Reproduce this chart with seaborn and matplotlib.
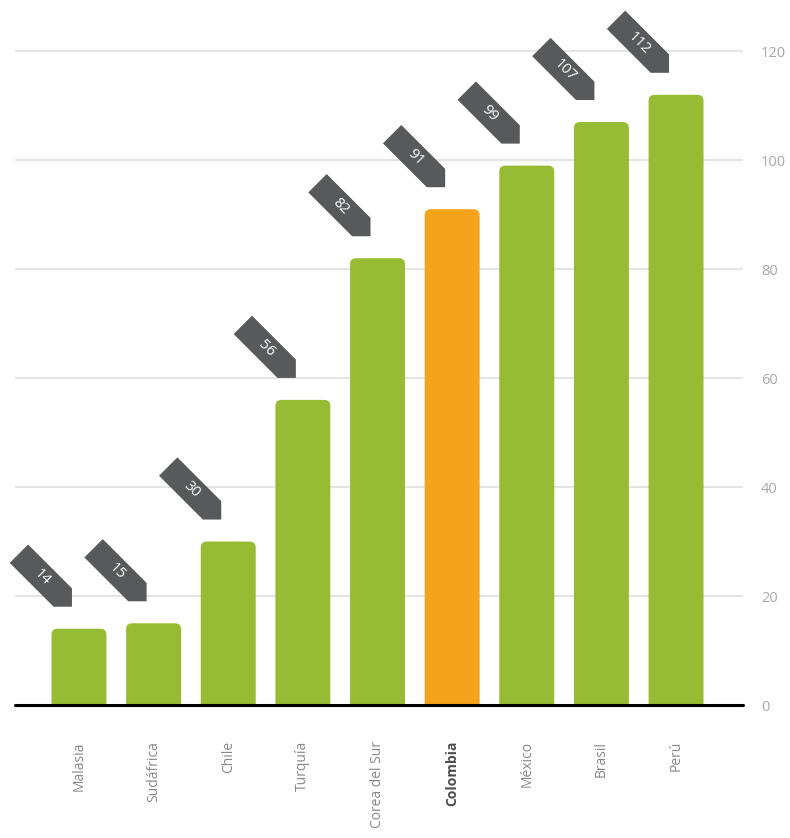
import matplotlib
matplotlib.use("Agg")
import matplotlib.pyplot as plt
import matplotlib.transforms as mtransforms
from matplotlib.patches import Polygon, FancyBboxPatch
import seaborn as sns
import pandas as pd

# Data
countries = ["Malasia", "Sudáfrica", "Chile", "Turquía", "Corea del Sur",
             "Colombia", "México", "Brasil", "Perú"]
values = [14, 15, 30, 56, 82, 91, 99, 107, 112]
highlight = "Colombia"
y_ticks = [0, 20, 40, 60, 80, 100, 120]

GREEN = "#97bc34"
ORANGE = "#f6a31c"
TAG = "#58595b"

sns.set_theme(style="white")
plt.rcParams["font.family"] = ["Open Sans", "DejaVu Sans"]

DPI = 100
fig = plt.figure(figsize=(7.9, 8.38), dpi=DPI)
ax = fig.add_axes([15 / 790, 133 / 838, 728 / 790, 705 / 838])

df = pd.DataFrame({"pais": countries, "valor": values})
palette = {c: (ORANGE if c == highlight else GREEN) for c in countries}
sns.barplot(data=df, x="pais", y="valor", hue="pais", palette=palette,
            legend=False, width=0.736, saturation=1, ax=ax, zorder=2)

ax.set_xlim(-0.857, 8.897)
ax.set_ylim(0, 129.4)

# Replace bars with top-rounded versions (bottom corners fall below the axis)
fig.canvas.draw()
px_x = ax.transData.transform((1, 0))[0] - ax.transData.transform((0, 0))[0]
px_y = ax.transData.transform((0, 1))[1] - ax.transData.transform((0, 0))[1]
radius_px = 6
r_x = radius_px / px_x
aspect = (radius_px / px_y) / r_x
for p in list(ax.patches):
    x0, w, h = p.get_x(), p.get_width(), p.get_height()
    col = p.get_facecolor()
    p.remove()
    ax.add_patch(FancyBboxPatch((x0, -3), w, h + 3,
                                boxstyle=f"round,pad=0,rounding_size={r_x}",
                                mutation_aspect=aspect, facecolor=col,
                                edgecolor="none", zorder=2))

# Grid and baseline
for t in y_ticks[1:]:
    ax.axhline(t, color="#e4e4e4", lw=1.5, zorder=1)
ax.axhline(0, color="black", lw=2.2, zorder=4, clip_on=False)

for s in ax.spines.values():
    s.set_visible(False)

# Y axis on the right
ax.yaxis.tick_right()
ax.set_yticks(y_ticks)
ax.set_yticklabels([str(t) for t in y_ticks])
ax.tick_params(axis="y", length=0, pad=13, labelsize=10.5, labelcolor="#a8a8a8")

# Category labels
ax.set_xlabel("")
ax.set_ylabel("")
ax.tick_params(axis="x", length=0, pad=26, labelsize=10, labelcolor="#888888",
               labelrotation=90)
for lab in ax.get_xticklabels():
    lab.set_verticalalignment("top")
    if lab.get_text() == highlight:
        lab.set_fontweight("bold")
        lab.set_color("#4d4d4d")

# Value tags: pointed callouts angled at -45 degrees above each bar
L, W = 75, 26
H = W / 2
tag_shape = [(0, 0), (-H, W / 2), (-L, W / 2), (-L, -W / 2), (-H, -W / 2)]
for i, v in enumerate(values):
    tr = (mtransforms.Affine2D().rotate_deg(-45).translate(-7, 22).scale(1 / DPI)
          + fig.dpi_scale_trans
          + mtransforms.ScaledTranslation(i, v, ax.transData))
    ax.add_patch(Polygon(tag_shape, closed=True, facecolor=TAG, edgecolor="none",
                         transform=tr, clip_on=False, zorder=5))
    ax.text(-(L + H) / 2 + 2, 0, str(v), transform=tr, rotation=-45,
            rotation_mode="anchor", ha="center", va="center", color="white",
            fontsize=10.5, zorder=6, clip_on=False)

fig.savefig("out.png", dpi=DPI)
